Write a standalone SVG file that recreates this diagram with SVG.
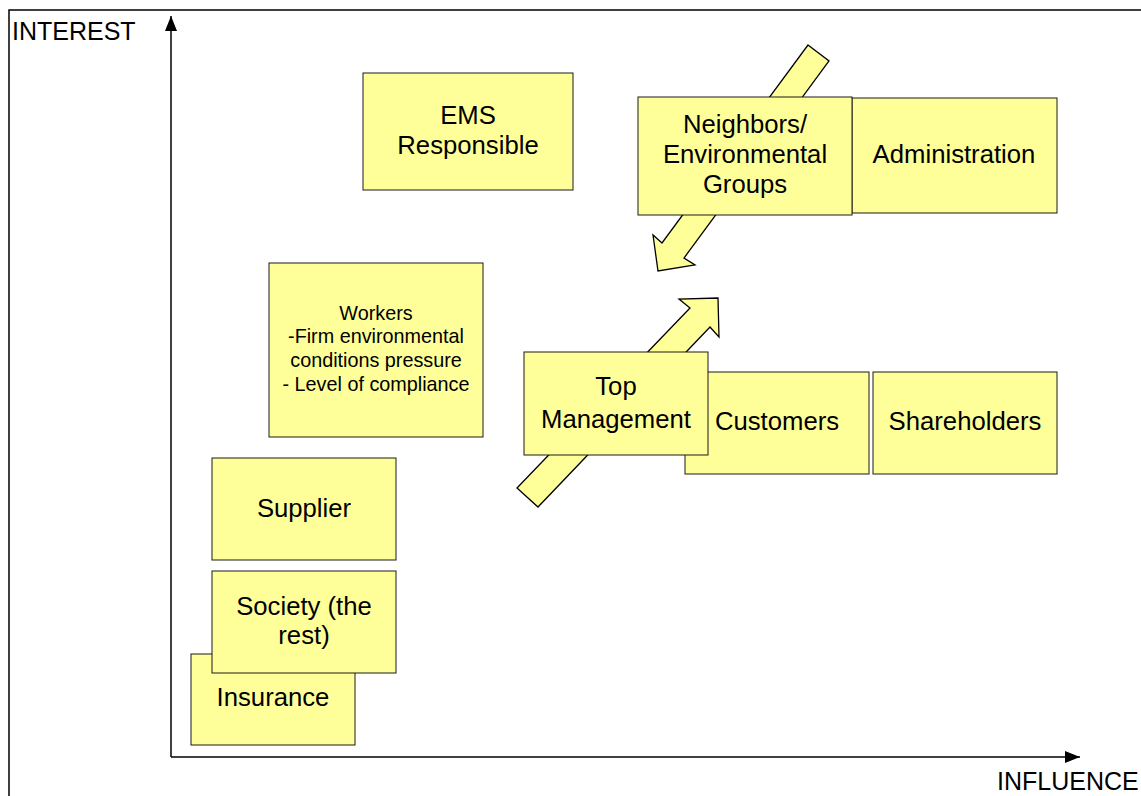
<svg xmlns="http://www.w3.org/2000/svg" width="1141" height="796" viewBox="0 0 1141 796">
  <style>
    .box { fill: #FFFF99; stroke: #1a1a1a; stroke-width: 1; }
    .big { font-family: "Liberation Sans", Arial, sans-serif; font-size: 25.7px; fill: #000; text-anchor: middle; }
    .small { font-family: "Liberation Sans", Arial, sans-serif; font-size: 19.8px; fill: #000; text-anchor: middle; }
    .axis-label { font-family: "Liberation Sans", Arial, sans-serif; font-size: 25px; fill: #000; }
    .axis { stroke: #000; stroke-width: 1.5; fill: none; }
    .flow { fill: #FFFF99; stroke: #000; stroke-width: 1.3; stroke-linejoin: miter; }
  </style>
  <defs>
    <marker id="axis-head" markerUnits="userSpaceOnUse" markerWidth="16" markerHeight="12" refX="15" refY="6" orient="auto">
      <path d="M0,0 L15,6 L0,12 Z" fill="#000"/>
    </marker>
  </defs>

  <rect width="1141" height="796" fill="#fff"/>

  <!-- outer frame -->
  <rect x="9" y="10" width="1160" height="820" fill="none" stroke="#000" stroke-width="1.5"/>

  <!-- axes -->
  <g id="axes">
    <path class="axis" d="M171,757 L171,16" marker-end="url(#axis-head)"/>
    <path class="axis" d="M171,757 L1080,757" marker-end="url(#axis-head)"/>
    <text class="axis-label" x="12" y="40">INTEREST</text>
    <text class="axis-label" x="997" y="790">INFLUENCE</text>
  </g>

  <!-- connectors: broad block arrows -->
  <g id="connectors">
    <polygon class="flow" points="808,45 829,61 684,258 695,265 658,271 653,235 662,243"/>
    <polygon class="flow" points="517,488 690,308 679,299 718,298 719,337 710,327 538,507"/>
  </g>

  <g id="node-ems">
    <rect class="box" x="363" y="73" width="210" height="117"/>
    <text class="big" x="468" y="124">EMS</text>
    <text class="big" x="468" y="154">Responsible</text>
  </g>

  <g id="node-administration">
    <rect class="box" x="852" y="98" width="205" height="115"/>
    <text class="big" x="954" y="163">Administration</text>
  </g>

  <g id="node-neighbors">
    <rect class="box" x="638" y="97" width="214" height="118"/>
    <text class="big" x="745" y="133">Neighbors/</text>
    <text class="big" x="745" y="163">Environmental</text>
    <text class="big" x="745" y="193">Groups</text>
  </g>

  <g id="node-workers">
    <rect class="box" x="269" y="263" width="214" height="174"/>
    <text class="small" x="376" y="320">Workers</text>
    <text class="small" x="376" y="343">-Firm environmental</text>
    <text class="small" x="376" y="367">conditions pressure</text>
    <text class="small" x="376" y="391">- Level of compliance</text>
  </g>

  <g id="node-customers">
    <rect class="box" x="685" y="372" width="184" height="102"/>
    <text class="big" x="777" y="430">Customers</text>
  </g>

  <g id="node-shareholders">
    <rect class="box" x="873" y="372" width="184" height="102"/>
    <text class="big" x="965" y="430">Shareholders</text>
  </g>

  <g id="node-top-management">
    <rect class="box" x="524" y="352" width="184" height="103"/>
    <text class="big" x="616" y="395">Top</text>
    <text class="big" x="616" y="428">Management</text>
  </g>

  <g id="node-supplier">
    <rect class="box" x="212" y="458" width="184" height="102"/>
    <text class="big" x="304" y="517">Supplier</text>
  </g>

  <g id="node-insurance">
    <rect class="box" x="191" y="654" width="164" height="91"/>
    <text class="big" x="273" y="706">Insurance</text>
  </g>

  <g id="node-society">
    <rect class="box" x="212" y="571" width="184" height="102"/>
    <text class="big" x="304" y="615">Society (the</text>
    <text class="big" x="304" y="644">rest)</text>
  </g>
</svg>
